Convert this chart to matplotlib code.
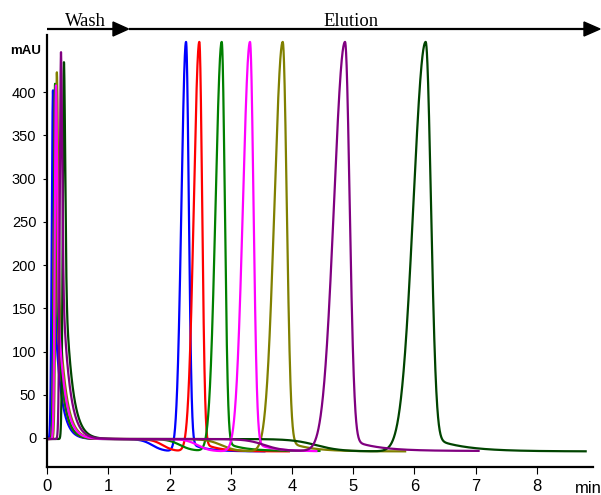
import numpy as np
import matplotlib
matplotlib.use("Agg")
import matplotlib.pyplot as plt
from matplotlib.patches import Polygon

# ---------------- data ----------------
names = ["blue", "red", "green", "magenta", "olive", "purple", "darkgreen"]
colors = ["#0000ff", "#ff0000", "#008000", "#ff00ff", "#808000", "#800080", "#004400"]
draw_order = [0, 1, 2, 4, 6, 3, 5]

# wash (flow-through) peaks
wash_time = [0.096, 0.13, 0.13, 0.145, 0.16, 0.227, 0.276]
wash_height = [402, 400, 410, 408, 423, 447, 435]
wash_tail_frac = [0.5, 0.5, 0.5, 0.5, 0.5, 0.5, 0.5]
wash_tail_tau = [0.10, 0.10, 0.10, 0.11, 0.11, 0.11, 0.11]

# elution peaks (apex time, apex value, left/right widths, tail)
elu_time = [2.27, 2.487, 2.853, 3.315, 3.85, 4.868, 6.186]
elu_height = [458, 458, 458, 458, 458, 458, 458]
elu_sigma_left = [0.075, 0.09, 0.10, 0.115, 0.135, 0.18, 0.20]
elu_sigma_right = [0.045, 0.046, 0.05, 0.057, 0.065, 0.075, 0.085]
elu_tail_amp = [12, 12, 12, 12, 14, 16, 19]
elu_tail_tau = [0.25, 0.25, 0.28, 0.30, 0.35, 0.42, 0.50]

# baseline shift before elution
base_start = [-1.2] * 7
base_end = [-15.5, -15.5, -15.0, -15.5, -15.5, -15.0, -15.5]
step_time = [1.72, 1.89, 2.17, 2.46, 2.85, 3.55, 4.40]
step_width = [0.09, 0.09, 0.10, 0.10, 0.12, 0.15, 0.20]

# run end time of each chromatogram
run_end = [3.55, 3.95, 4.45, 4.40, 5.85, 7.05, 8.80]

y_ticks = [0, 50, 100, 150, 200, 250, 300, 350, 400]
x_ticks = [0, 1, 2, 3, 4, 5, 6, 7, 8]


def half_gauss(t, t0, s):
    return np.exp(-0.5 * ((t - t0) / s) ** 2)


def chromatogram(i):
    t = np.linspace(0, run_end[i], 4000)
    base = base_start[i] + (base_end[i] - base_start[i]) / (
        1 + np.exp(-(t - step_time[i]) / step_width[i]))
    # wash peak
    tw = wash_time[i]
    aw = wash_height[i] - base_start[i]
    f = wash_tail_frac[i]
    dtw = np.clip(t - tw, 0, None)
    wash = np.where(t < tw, aw * half_gauss(t, tw, 0.02),
                    aw * ((1 - f) * half_gauss(t, tw, 0.02) + f * np.exp(-dtw / wash_tail_tau[i])))
    # elution peak
    tp = elu_time[i]
    bp = base_start[i] + (base_end[i] - base_start[i]) / (
        1 + np.exp(-(tp - step_time[i]) / step_width[i]))
    a = elu_height[i] - bp
    at = elu_tail_amp[i]
    dtp = np.clip(t - tp, 0, None)
    elu = np.where(t < tp, a * half_gauss(t, tp, elu_sigma_left[i]),
                   (a - at) * half_gauss(t, tp, elu_sigma_right[i]) + at * np.exp(-dtp / elu_tail_tau[i]))
    return t, base + wash + elu


# ---------------- figure ----------------
W, H = 601, 495
fig = plt.figure(figsize=(W / 100, H / 100), dpi=100)
ax = fig.add_axes([46.7 / W, 1 - 466.7 / H, (592.7 - 46.7) / W, (466.7 - 35) / H])

for i in draw_order:
    t, y = chromatogram(i)
    ax.plot(t, y, color=colors[i], lw=1.6, solid_joinstyle="round")

ax.set_xlim(-0.007, 8.915)
ax.set_ylim(-33.2, 466)
ax.set_xticks(x_ticks)
ax.set_yticks(y_ticks)
ax.set_xticklabels([str(v) for v in x_ticks], fontsize=12, family="Liberation Sans")
ax.set_yticklabels([str(v) for v in y_ticks], fontsize=10.5, family="Liberation Sans")
ax.tick_params(axis="x", direction="out", length=5, width=0.8, pad=3.5)
ax.tick_params(axis="y", direction="out", length=3, width=0.8, pad=4.5)
for s in ["top", "right"]:
    ax.spines[s].set_visible(False)
for s in ["left", "bottom"]:
    ax.spines[s].set_linewidth(1.6)

# overlay in pixel coordinates for annotations
ov = fig.add_axes([0, 0, 1, 1], facecolor="none")
ov.set_xlim(0, W)
ov.set_ylim(H, 0)
ov.axis("off")

ov.plot([46.7, 114], [29, 29], color="black", lw=1.6, solid_capstyle="butt")
ov.add_patch(Polygon([(113, 22), (113, 36), (128.5, 29)], closed=True, color="black"))
ov.plot([129, 585], [29, 29], color="black", lw=1.6, solid_capstyle="butt")
ov.add_patch(Polygon([(584, 22), (584, 36), (600, 29)], closed=True, color="black"))

ov.text(85, 25.7, "Wash", ha="center", va="baseline", fontsize=13.4, family="Liberation Serif")
ov.text(351, 25.7, "Elution", ha="center", va="baseline", fontsize=13.4, family="Liberation Serif")
ov.text(26, 51, "mAU", ha="center", va="center", fontsize=9.5, fontweight="bold",
        family="Liberation Sans")
ov.text(575, 493, "min", ha="left", va="baseline", fontsize=12, family="Liberation Sans")

fig.savefig("out.png", dpi=100)
